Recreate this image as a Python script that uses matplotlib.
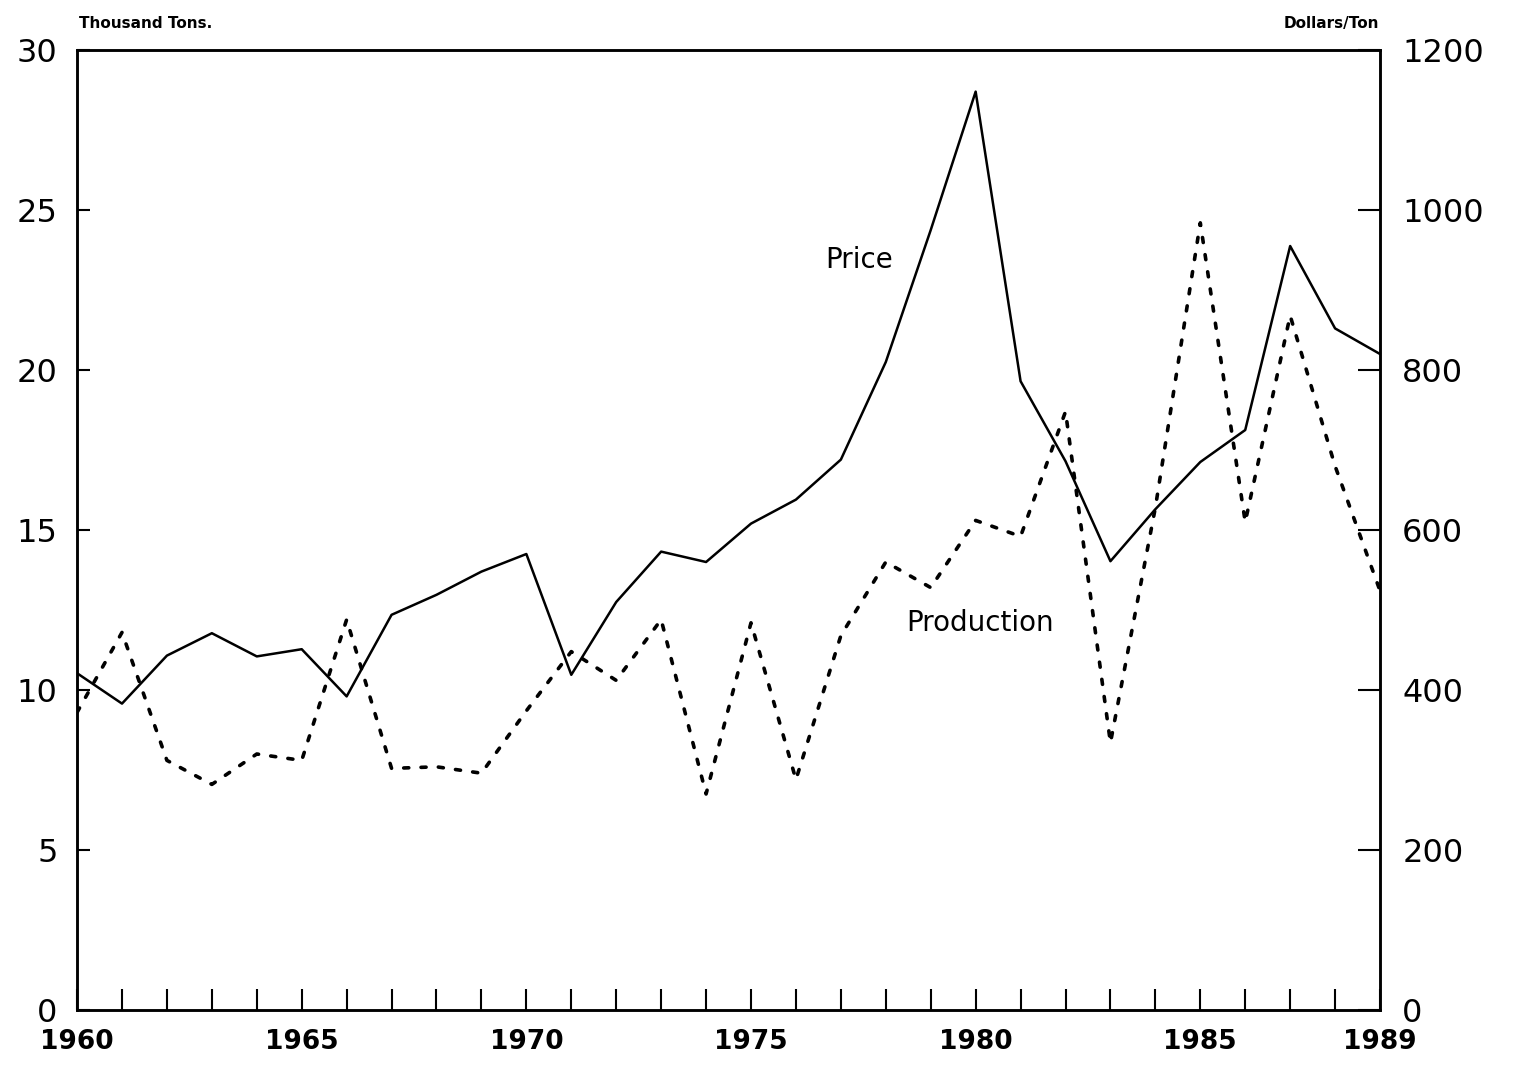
import matplotlib.pyplot as plt

years = list(range(1960, 1990))

# thousand tons
production = [9.3, 11.8, 7.8, 7.05, 8.0, 7.8, 12.2, 7.55, 7.6, 7.4,
              9.35, 11.2, 10.3, 12.2, 6.75, 12.1, 7.2, 11.7, 14.0, 13.2,
              15.3, 14.8, 18.7, 8.35, 15.7, 24.6, 15.25, 21.7, 17.0, 13.1]

# dollars per ton
price = [421, 383, 443, 471, 442, 451, 392, 494, 519, 548,
         570, 419, 510, 573, 560, 608, 638, 688, 810, 975,
         1148, 786, 686, 561, 626, 685, 725, 955, 852, 820]

left_ticks = [0, 5, 10, 15, 20, 25, 30]
right_ticks = [0, 200, 400, 600, 800, 1000, 1200]
year_labels = [1960, 1965, 1970, 1975, 1980, 1985, 1989]

fig = plt.figure(figsize=(15.17, 10.69), dpi=100)
ax = fig.add_axes([0.0508, 0.0552, 0.8589, 0.898])
ax2 = ax.twinx()

ax.plot(years, production, color='black', linewidth=2.6,
        linestyle=(0, (1.4, 3.4)), dash_capstyle='round')
ax2.plot(years, price, color='black', linewidth=1.8)

ax.set_xlim(1960, 1989)
ax.set_ylim(0, 30)
ax2.set_ylim(0, 1200)

ax.set_yticks(left_ticks)
ax.set_yticklabels([str(v) for v in left_ticks], fontsize=23)
ax2.set_yticks(right_ticks)
ax2.set_yticklabels([str(v) for v in right_ticks], fontsize=23)
ax.set_xticks(years)
ax.set_xticklabels([str(y) if y in year_labels else '' for y in years],
                   fontsize=19, fontweight='bold')

ax.tick_params(axis='x', direction='in', length=15, width=1.5, pad=14)
ax.tick_params(axis='y', direction='in', length=9, width=1.5, pad=14)
ax2.tick_params(axis='y', direction='in', length=16, width=1.5, pad=16)

for a in (ax, ax2):
    for s in a.spines.values():
        s.set_linewidth(1.8)

# series labels placed next to their lines
ax2.text(1977.4, 937, 'Price', fontsize=20, ha='center', va='center')
ax2.text(1980.1, 484, 'Production', fontsize=20, ha='center', va='center')

fig.text(0.052, 0.978, 'Thousand Tons.', fontsize=11, fontweight='bold',
         ha='left', va='center')
fig.text(0.909, 0.978, 'Dollars/Ton', fontsize=11, fontweight='bold',
         ha='right', va='center')

fig.savefig('out.png', dpi=100)
